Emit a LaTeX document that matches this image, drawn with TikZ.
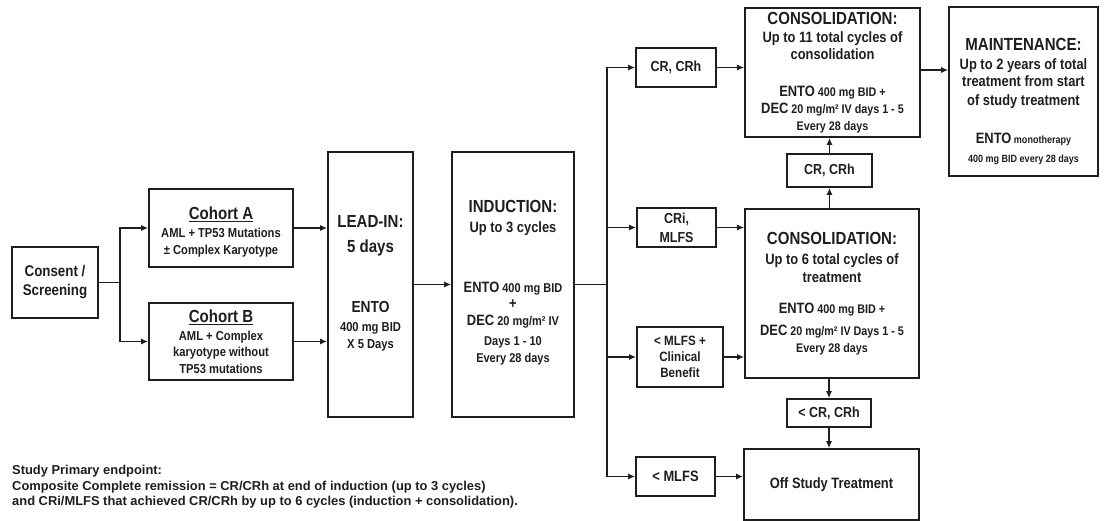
\documentclass[tikz,border=0pt]{standalone}
\usepackage{fontspec}
\setmainfont{Liberation Sans}[FakeStretch=0.86]
\newfontfamily\notefont{Liberation Sans}
\usetikzlibrary{positioning,calc,arrows.meta}
\definecolor{ink}{HTML}{1E1E1E}
\newcommand{\hd}{\fontsize{17.5}{21}\selectfont}
\newcommand{\md}{\fontsize{15}{18.5}\selectfont}
\newcommand{\nm}{\fontsize{13}{17}\selectfont}
\tikzset{ARROW/.style={line width=1.4pt, draw=ink, -{Latex[length=7pt,width=6pt]}}}
\tikzset{LINE/.style={line width=1.4pt, draw=ink}}
\tikzset{BOX/.style={rectangle, draw=ink, line width=1.6pt, text=ink, align=center, inner sep=2pt, font=\bfseries\nm}}
\tikzset{NOTE/.style={text=ink, align=left, inner sep=0pt, anchor=north west, font=\notefont\bfseries\fontsize{12.9}{15.5}\selectfont}}

\begin{document}
\begin{tikzpicture}[x=1pt, y=-1pt]
    \useasboundingbox (0,0) rectangle (1108,521);

    \node[BOX, minimum width=86pt, minimum height=71pt, font=\bfseries\fontsize{15.5}{19}\selectfont] (n_consent) at (55,282.5) {Consent /\\Screening};
    \node[BOX, minimum width=144pt, minimum height=78pt] (n_cohortA) at (221,228) {
        \rule{0pt}{20.5pt}{\hd\underline{Cohort A}}\\[1pt]
        AML + TP53 Mutations\\
        ± Complex Karyotype};
    \node[BOX, minimum width=144pt, minimum height=77pt, font=\bfseries\fontsize{13}{16.5}\selectfont] (n_cohortB) at (221,341.5) {
        {\hd\underline{Cohort B}}\\[1pt]
        AML + Complex\\
        karyotype without\\
        TP53 mutations};

    \node[BOX, minimum width=85pt, minimum height=265pt] (n_leadin) at (370.5,284.5) {
        {\hd LEAD-IN:}\\[8pt]
        {\hd 5 days}\\[43pt]
        {\fontsize{16}{19}\selectfont ENTO}\\[2pt]
        400 mg BID\\
        X 5 Days\rule[-6pt]{0pt}{6pt}};
    \node[BOX, minimum width=122pt, minimum height=265pt, font=\bfseries\fontsize{12.8}{17}\selectfont] (n_induction) at (513,284.5) {
        {\hd INDUCTION:}\\[3pt]
        {\md Up to 3 cycles}\\[43pt]
        {\md ENTO} 400 mg BID\\[-1pt]
        {\md +}\\
        {\md DEC} 20 mg/m² IV\\[3pt]
        Days 1 - 10\\
        Every 28 days\rule[-6pt]{0pt}{6pt}};

    % response branches
    \node[BOX, minimum width=80pt, minimum height=39pt, font=\bfseries\fontsize{14.5}{18}\selectfont] (n_crA) at (676,67.5) {CR, CRh};
    \node[BOX, minimum width=79pt, minimum height=39pt, font=\bfseries\fontsize{14.5}{19}\selectfont] (n_cri) at (676.5,227.5) {CRi,\\MLFS};
    \node[BOX, minimum width=86pt, minimum height=60pt, font=\bfseries\fontsize{13.5}{16}\selectfont] (n_mlfsCB) at (680,357) {\textless{} MLFS +\\Clinical\\Benefit};
    \node[BOX, minimum width=79pt, minimum height=39pt, font=\bfseries\fontsize{15}{18}\selectfont] (n_mlfs) at (675.5,476.5) {\textless{} MLFS};

    \node[BOX, minimum width=175pt, minimum height=129pt, font=\bfseries\fontsize{12.5}{17.5}\selectfont] (n_consolA) at (832.5,72.5) {
        {\hd CONSOLIDATION:}\\
        {\md Up to 11 total cycles of}\\
        {\md consolidation}\\[19pt]
        {\md ENTO} 400 mg BID +\\
        {\md DEC} 20 mg/m² IV days 1 - 5\\[-1pt]
        Every 28 days};
    \node[BOX, minimum width=149pt, minimum height=169pt, font=\bfseries\fontsize{10.5}{18.5}\selectfont] (n_maint) at (1023.5,91.5) {
        \rule{0pt}{32.5pt}{\hd MAINTENANCE:}\\
        {\md Up to 2 years of total}\\[-1pt]
        {\md treatment from start}\\
        {\md of study treatment}\\[20pt]
        {\md ENTO} monotherapy\\
        400 mg BID every 28 days};
    \node[BOX, minimum width=85pt, minimum height=33pt, font=\bfseries\fontsize{14.5}{18}\selectfont] (n_crB) at (829.5,170.5) {CR, CRh};
    \node[BOX, minimum width=174pt, minimum height=169pt, font=\bfseries\fontsize{12.5}{18.5}\selectfont] (n_consolB) at (832,293.5) {
        {\hd CONSOLIDATION:}\\[1.5pt]
        {\md Up to 6 total cycles of}\\
        {\md treatment}\\[12.5pt]
        {\md ENTO} 400 mg BID +\\[3.5pt]
        {\md DEC} 20 mg/m² IV Days 1 - 5\\[-1.5pt]
        Every 28 days};
    \node[BOX, minimum width=84pt, minimum height=28pt, font=\bfseries\fontsize{14.5}{18}\selectfont] (n_ltcr) at (829,413) {\textless{} CR, CRh};
    \node[BOX, minimum width=175pt, minimum height=71pt, font=\bfseries\fontsize{15}{18}\selectfont] (n_off) at (831.5,484.5) {Off Study Treatment};

    % consent split
    \coordinate (c_split1) at (120,282.5);
    \draw[LINE] (n_consent.east) -- (c_split1);
    \draw[ARROW] (c_split1) |- (n_cohortA.west);
    \draw[ARROW] (c_split1) |- (n_cohortB.west);

    \draw[ARROW] (n_cohortA.east) -- (n_cohortA.east -| n_leadin.west);
    \draw[ARROW] (n_cohortB.east) -- (n_cohortB.east -| n_leadin.west);
    \draw[ARROW] (n_leadin.east) -- (n_induction.west);

    % induction split
    \coordinate (c_split2) at (607,284.5);
    \draw[LINE] (n_induction.east) -- (c_split2);
    \draw[ARROW] (c_split2) |- (n_crA.west);
    \draw[ARROW] (c_split2) |- (n_cri.west);
    \draw[ARROW] (c_split2) |- (n_mlfsCB.west);
    \draw[ARROW] (c_split2) |- (n_mlfs.west);

    \draw[ARROW] (n_crA.east) -- (n_crA.east -| n_consolA.west);
    \draw[ARROW] (n_cri.east) -- (n_cri.east -| n_consolB.west);
    \draw[ARROW] (n_mlfsCB.east) -- (n_mlfsCB.east -| n_consolB.west);
    \draw[ARROW] (n_mlfs.east) -- (n_mlfs.east -| n_off.west);

    \coordinate (c_toMaint) at ($(n_consolA.east)+(0,-2.5)$);
    \draw[ARROW] (c_toMaint) -- (c_toMaint -| n_maint.west);

    \draw[ARROW] (n_crB.south |- n_consolB.north) -- (n_crB.south);
    \draw[ARROW] (n_crB.north) -- (n_crB.north |- n_consolA.south);
    \draw[ARROW] (n_ltcr.north |- n_consolB.south) -- (n_ltcr.north);
    \draw[ARROW] (n_ltcr.south) -- (n_ltcr.south |- n_off.north);

    \node[NOTE] (n_note) at (12,465) {Study Primary endpoint:\\
        Composite Complete remission = CR/CRh at end of induction (up to 3 cycles)\\
        and CRi/MLFS that achieved CR/CRh by up to 6 cycles (induction + consolidation).};
\end{tikzpicture}
\end{document}
